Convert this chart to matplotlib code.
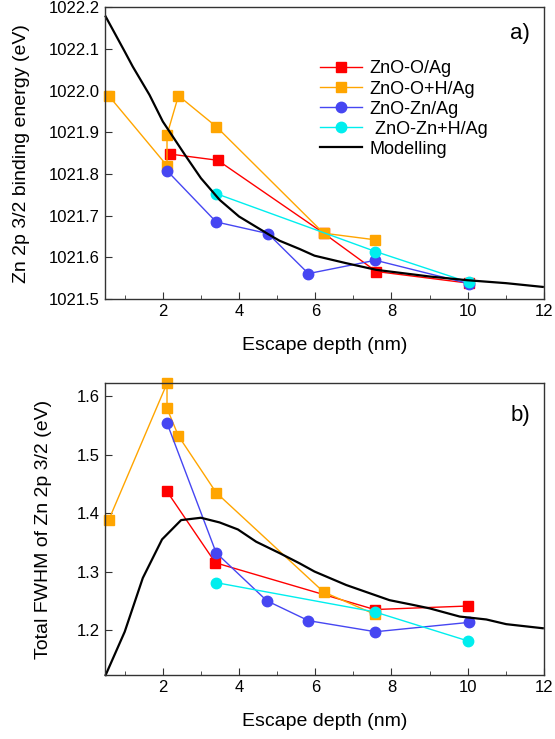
import matplotlib
matplotlib.use('Agg')
import matplotlib.pyplot as plt
from matplotlib.ticker import MultipleLocator

plt.rcParams['font.family'] = ['Liberation Sans', 'DejaVu Sans']

# Datos panel a) energia de enlace
x_o_a = [2.18, 3.44, 6.22, 7.60, 10.03]
y_o_a = [1021.848, 1021.833, 1021.658, 1021.566, 1021.538]

x_oh_a = [0.58, 2.11, 2.11, 2.41, 3.40, 6.22, 7.58]
y_oh_a = [1021.988, 1021.820, 1021.894, 1021.988, 1021.914, 1021.658, 1021.642]

x_zn_a = [2.11, 3.40, 4.76, 5.82, 7.58, 10.03]
y_zn_a = [1021.808, 1021.685, 1021.657, 1021.561, 1021.593, 1021.537]

x_znh_a = [3.40, 7.58, 10.03]
y_znh_a = [1021.753, 1021.614, 1021.540]

x_mod_a = [0.50, 1.0, 1.21, 1.65, 2.0, 2.61, 3.0, 3.49, 4.0, 4.76, 5.06, 5.59,
           5.98, 6.81, 7.6, 9.0, 10.0, 11.01, 11.97]
y_mod_a = [1022.178, 1022.094, 1022.058, 1021.99, 1021.926, 1021.842, 1021.790,
           1021.738, 1021.698, 1021.656, 1021.640, 1021.620, 1021.604, 1021.586,
           1021.570, 1021.554, 1021.545, 1021.538, 1021.529]

# Datos panel b) FWHM total
x_o_b = [2.11, 3.38, 7.56, 10.0]
y_o_b = [1.437, 1.315, 1.235, 1.241]

x_oh_b = [0.58, 2.11, 2.11, 2.41, 3.40, 6.22, 7.56]
y_oh_b = [1.388, 1.622, 1.579, 1.532, 1.435, 1.265, 1.227]

x_zn_b = [2.11, 3.40, 4.73, 5.82, 7.58, 10.03]
y_zn_b = [1.554, 1.332, 1.250, 1.216, 1.197, 1.213]

x_znh_b = [3.40, 7.56, 10.02]
y_znh_b = [1.281, 1.231, 1.181]

x_mod_b = [0.50, 1.0, 1.475, 1.98, 2.48, 3.0, 3.49, 3.97, 4.45, 5.08, 5.59, 5.98,
           6.81, 7.95, 8.56, 9.0, 9.79, 10.49, 11.01, 11.97]
y_mod_b = [1.123, 1.197, 1.289, 1.355, 1.388, 1.392, 1.384, 1.372, 1.351, 1.331,
           1.314, 1.300, 1.277, 1.251, 1.243, 1.237, 1.223, 1.218, 1.210, 1.203]

etiquetas = ['ZnO-O/Ag', 'ZnO-O+H/Ag', 'ZnO-Zn/Ag', ' ZnO-Zn+H/Ag', 'Modelling']
colores = ['#ff0000', '#ffa500', '#4646f2', '#00eeee']

fig = plt.figure(figsize=(5.55, 7.39), dpi=100)
ax1 = fig.add_axes([0.189, 0.5954, 0.791, 0.3946])
ax2 = fig.add_axes([0.189, 0.0866, 0.791, 0.3947])


def dibujar(ax, series, x_mod, y_mod):
    for (xs, ys, marker), color, lab in zip(series, colores, etiquetas):
        ax.plot(xs, ys, color=color, lw=1.0, marker=marker, ms=7.5,
                mec=color, mfc=color, label=lab)
    ax.plot(x_mod, y_mod, color='black', lw=1.6, label=etiquetas[4])
    ax.set_xlim(0.48, 12)
    ax.xaxis.set_major_locator(MultipleLocator(2))
    ax.xaxis.set_minor_locator(MultipleLocator(1))
    ax.yaxis.set_major_locator(MultipleLocator(0.1))
    ax.tick_params(which='both', direction='in', top=False, right=False,
                   labelsize=12, color='#333333')
    ax.tick_params(which='major', length=5)
    ax.tick_params(which='minor', length=3)
    for s in ax.spines.values():
        s.set_color('#333333')
        s.set_linewidth(1.0)
    ax.set_xlabel('Escape depth (nm)', fontsize=14, labelpad=13)
    for l in ax.lines:
        l.set_clip_on(False)


series_a = [(x_o_a, y_o_a, 's'), (x_oh_a, y_oh_a, 's'),
            (x_zn_a, y_zn_a, 'o'), (x_znh_a, y_znh_a, 'o')]
dibujar(ax1, series_a, x_mod_a, y_mod_a)
ax1.set_ylim(1021.5, 1022.2)
ax1.yaxis.set_major_formatter(plt.FormatStrFormatter('%.1f'))
ax1.set_ylabel('Zn 2p 3/2 binding energy (eV)', fontsize=14)
ax1.yaxis.set_label_coords(-0.17, 0.5)
ax1.text(0.968, 0.945, 'a)', transform=ax1.transAxes, ha='right', va='top', fontsize=16)
ax1.legend(loc='upper left', bbox_to_anchor=(0.49, 0.818), frameon=False, fontsize=13,
           handlelength=2.3, handletextpad=0.45, labelspacing=0.17, borderaxespad=0,
           borderpad=0)

series_b = [(x_o_b, y_o_b, 's'), (x_oh_b, y_oh_b, 's'),
            (x_zn_b, y_zn_b, 'o'), (x_znh_b, y_znh_b, 'o')]
dibujar(ax2, series_b, x_mod_b, y_mod_b)
ax2.set_ylim(1.123, 1.622)
ax2.set_ylabel('Total FWHM of Zn 2p 3/2 (eV)', fontsize=14)
ax2.yaxis.set_label_coords(-0.12, 0.5)
ax2.text(0.968, 0.925, 'b)', transform=ax2.transAxes, ha='right', va='top', fontsize=16)

fig.savefig('out.png', dpi=100)
